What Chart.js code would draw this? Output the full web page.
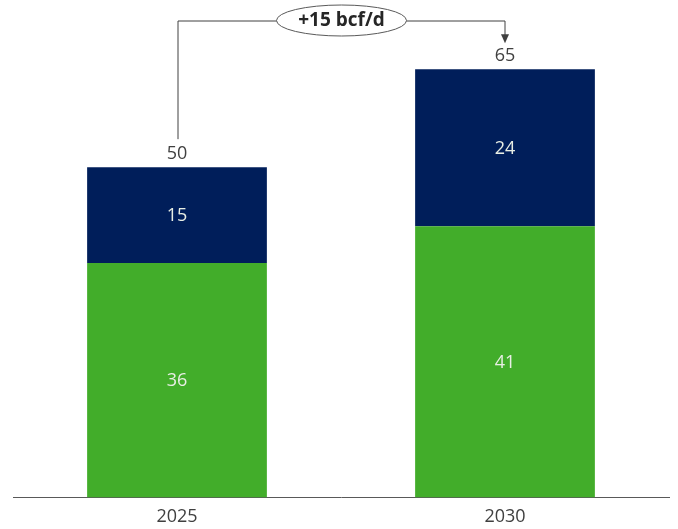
<!DOCTYPE html>
<html>
<head>
<meta charset="utf-8">
<script src="https://cdn.jsdelivr.net/npm/chart.js@4"></script>
<style>
	body { margin: 0; background: #fff; }
	#wrap { width: 678px; height: 529px; position: relative; overflow: hidden; }
</style>
</head>
<body>
<div id="wrap"><canvas id="gasChart" width="678" height="539"></canvas></div>
<script>
const years = ['2025', '2030'];
const greenValues = [35.7, 41.3];
const navyValues = [14.6, 23.9];
const changeLabel = '+15 bcf/d';

// totals on top of each stack
const totals = years.map((y, i) => greenValues[i] + navyValues[i]);

const labelPlugin = {
	id: 'labelPlugin',
	afterDatasetsDraw(chart) {
		const ctx = chart.ctx;
		const yScale = chart.scales.y;
		const xScale = chart.scales.x;

		ctx.save();
		ctx.textAlign = 'center';
		ctx.textBaseline = 'middle';
		ctx.font = '18px "Open Sans"';

		// values inside the segments
		chart.data.datasets.forEach((ds, di) => {
			const meta = chart.getDatasetMeta(di);
			meta.data.forEach((bar, i) => {
				const mid = (bar.y + bar.base) / 2;
				ctx.fillStyle = '#e8eee4';
				ctx.fillText(Math.round(ds.data[i]), bar.x, mid + 1);
			});
		});

		// totals
		ctx.fillStyle = '#404040';
		totals.forEach((t, i) => {
			const x = xScale.getPixelForValue(i);
			const y = yScale.getPixelForValue(t);
			ctx.fillText(Math.round(t), x, y - 13);
		});

		// bracket with the change
		const x0 = xScale.getPixelForValue(0) + 1;
		const x1 = xScale.getPixelForValue(1);
		const yTop = 21;
		const yLeft = yScale.getPixelForValue(totals[0]) - 28;
		const yRight = yScale.getPixelForValue(totals[1]) - 26;

		ctx.strokeStyle = '#404040';
		ctx.lineWidth = 1;
		ctx.beginPath();
		ctx.moveTo(x0, yLeft);
		ctx.lineTo(x0, yTop);
		ctx.lineTo(x1, yTop);
		ctx.lineTo(x1, yRight - 8);
		ctx.stroke();

		ctx.fillStyle = '#404040';
		ctx.beginPath();
		ctx.moveTo(x1 - 4, yRight - 9);
		ctx.lineTo(x1 + 4, yRight - 9);
		ctx.lineTo(x1, yRight);
		ctx.closePath();
		ctx.fill();

		const cx = (x0 + x1) / 2;
		ctx.beginPath();
		ctx.ellipse(cx, 20.5, 65, 15.5, 0, 0, Math.PI * 2);
		ctx.fillStyle = '#ffffff';
		ctx.fill();
		ctx.strokeStyle = '#595959';
		ctx.stroke();

		ctx.fillStyle = '#262626';
		ctx.font = 'bold 19px "Open Sans"';
		ctx.fillText(changeLabel, cx, 21);

		ctx.restore();
	}
};

const ctx = document.getElementById('gasChart').getContext('2d');
const gasChart = new Chart(ctx, {
	type: 'bar',
	data: {
		labels: years,
		datasets: [{
			label: 'Green',
			data: greenValues,
			backgroundColor: '#42ad2a',
			categoryPercentage: 0.548,
			barPercentage: 1,
		}, {
			label: 'Navy',
			data: navyValues,
			backgroundColor: '#001e5a',
			categoryPercentage: 0.548,
			barPercentage: 1,
		}],
	},
	options: {
		responsive: false,
		animation: false,
		layout: {
			padding: { left: 13, right: 9, top: 5, bottom: 2 },
		},
		plugins: {
			legend: { display: false },
			tooltip: { enabled: false },
		},
		scales: {
			x: {
				stacked: true,
				grid: { display: false, drawTicks: false },
				border: { display: true, color: '#595959', width: 1 },
				ticks: {
					color: '#404040',
					font: { family: 'Open Sans', size: 18 },
					padding: 9,
				},
			},
			y: {
				stacked: true,
				display: false,
				min: 0,
				max: 75,
			},
		},
	},
	plugins: [labelPlugin],
});
</script>
</body>
</html>
